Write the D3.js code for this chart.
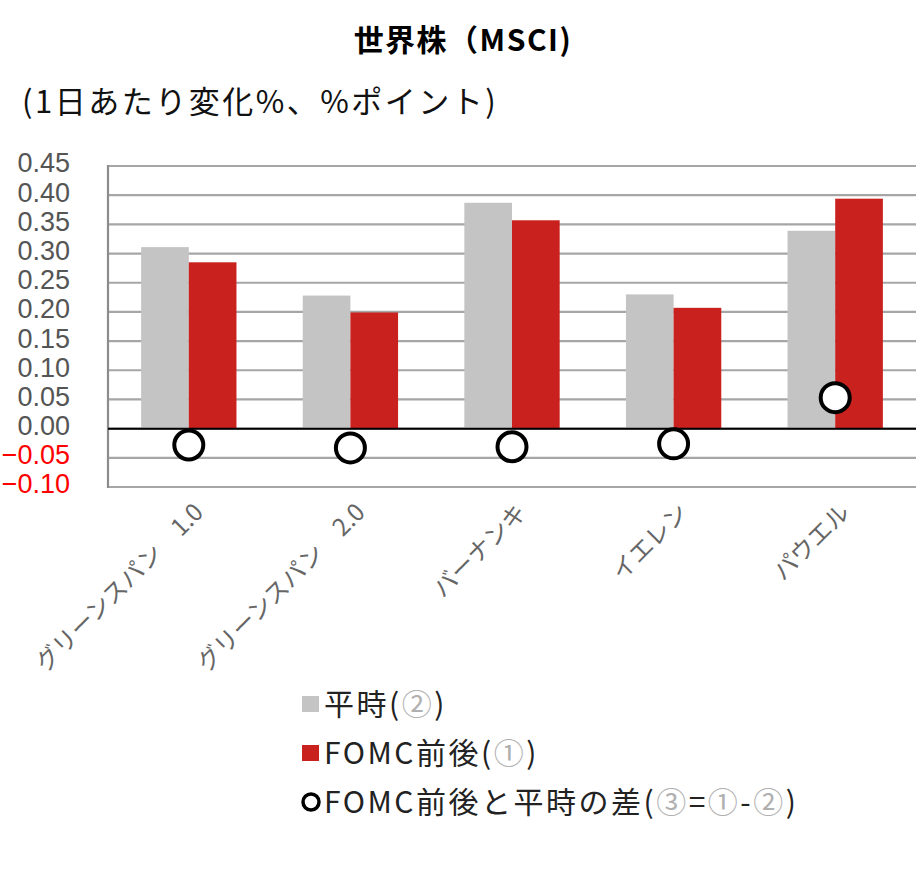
<!DOCTYPE html>
<html>
<head>
<meta charset="utf-8">
<script src="https://cdn.jsdelivr.net/npm/d3@7"></script>
<style>
  body { margin: 0; background: #fff; }
  svg { display: block; }
</style>
</head>
<body>
<svg id="canvas" width="920" height="871"></svg>
<script>
let categories = ['グリーンスパン\u30001.0', 'グリーンスパン\u30002.0', 'バーナンキ', 'イエレン', 'パウエル']
let heijiValues = [0.311, 0.228, 0.387, 0.230, 0.339]
let fomcValues = [0.285, 0.199, 0.357, 0.207, 0.394]
let diffValues = [-0.028, -0.033, -0.031, -0.026, 0.053]
let yTicks = [-0.10, -0.05, 0.00, 0.05, 0.10, 0.15, 0.20, 0.25, 0.30, 0.35, 0.40, 0.45]

let jpFont = '"Noto Sans CJK JP", "Noto Sans", sans-serif'
let numFont = '"Liberation Sans", Arial, sans-serif'

let canvas = d3.select('#canvas')

let plotLeft = 108, plotRight = 916, plotTop = 166, plotBottom = 487

let rows = categories.map((c, i) => ({ name: c, heiji: heijiValues[i], fomc: fomcValues[i], diff: diffValues[i] }))

let x0 = d3.scaleBand()
    .domain(categories)
    .range([plotLeft, plotRight])
    .paddingInner(0.41)
    .paddingOuter(0.205)

let x1 = d3.scaleBand()
    .domain(['heiji', 'fomc'])
    .range([0, x0.bandwidth()])

let y = d3.scaleLinear()
    .domain([-0.10, 0.45])
    .range([plotBottom, plotTop])

let colors = { heiji: '#c4c4c4', fomc: '#c9211e' }

// title
canvas.append('text')
    .attr('x', 463).attr('y', 51)
    .attr('text-anchor', 'middle')
    .style('font-family', jpFont)
    .style('font-weight', 'bold')
    .style('font-size', '30px')
    .style('letter-spacing', '1.5px')
    .style('fill', '#000')
    .text('世界株（MSCI)')

canvas.append('text')
    .attr('x', 22).attr('y', 113)
    .style('font-family', jpFont)
    .style('font-size', '31px')
    .style('letter-spacing', '2.5px')
    .style('fill', '#111')
    .text('(1日あたり変化%、%ポイント)')

// gridlines
canvas.append('g')
    .selectAll('line')
    .data(yTicks)
    .enter()
    .append('line')
    .attr('x1', plotLeft).attr('x2', plotRight)
    .attr('y1', d => y(d)).attr('y2', d => y(d))
    .attr('stroke', '#a6a6a6')
    .attr('stroke-width', 2.2)

canvas.append('line')
    .attr('x1', plotLeft).attr('x2', plotLeft)
    .attr('y1', y(0.45) - 1).attr('y2', y(-0.10) + 1)
    .attr('stroke', '#8c8c8c')
    .attr('stroke-width', 2.2)

// y tick labels
canvas.append('g')
    .selectAll('text')
    .data(yTicks)
    .enter()
    .append('text')
    .attr('x', 70)
    .attr('y', d => y(d) - 3)
    .attr('dy', '0.35em')
    .attr('text-anchor', 'end')
    .style('font-family', numFont)
    .style('font-size', '27px')
    .style('fill', d => d < 0 ? '#ff0000' : '#555')
    .text(d => d3.format('.2f')(d))

// bars
let groups = canvas.append('g')
    .selectAll('g')
    .data(rows)
    .enter()
    .append('g')
    .attr('transform', d => 'translate(' + x0(d.name) + ',0)')

groups.selectAll('rect')
    .data(d => ['heiji', 'fomc'].map(k => ({ key: k, value: d[k] })))
    .enter()
    .append('rect')
    .attr('x', d => x1(d.key))
    .attr('width', x1.bandwidth())
    .attr('y', d => y(Math.max(0, d.value)))
    .attr('height', d => Math.abs(y(d.value) - y(0)))
    .attr('fill', d => colors[d.key])

// zero line
canvas.append('line')
    .attr('x1', plotLeft).attr('x2', plotRight)
    .attr('y1', y(0)).attr('y2', y(0))
    .attr('stroke', '#000')
    .attr('stroke-width', 2)

// difference markers
canvas.append('g')
    .selectAll('circle')
    .data(rows)
    .enter()
    .append('circle')
    .attr('cx', d => x0(d.name) + x0.bandwidth() / 2)
    .attr('cy', d => y(d.diff))
    .attr('r', 14.5)
    .attr('fill', '#fff')
    .attr('stroke', '#000')
    .attr('stroke-width', 4)

// x labels
canvas.append('g')
    .selectAll('text')
    .data(categories)
    .enter()
    .append('text')
    .attr('transform', d => 'translate(' + (x0(d) + x0.bandwidth() / 2 + 10) + ',' + 508 + ') rotate(-45)')
    .attr('text-anchor', 'end')
    .attr('dy', '0.35em')
    .style('font-family', jpFont)
    .style('font-size', '24px')
    .style('fill', '#666')
    .text(d => d)

// legend
let legendItems = [
    { kind: 'rect', color: colors.heiji, parts: [['平時(', '#222'], ['②', '#b0b0b0'], [')', '#222']] },
    { kind: 'rect', color: colors.fomc, parts: [['FOMC前後(', '#222'], ['①', '#b0b0b0'], [')', '#222']] },
    { kind: 'circle', color: '#000', parts: [['FOMC前後と平時の差(', '#222'], ['③', '#b0b0b0'], ['=', '#222'], ['①', '#b0b0b0'], ['-', '#222'], ['②', '#b0b0b0'], [')', '#222']] }
]

let legend = canvas.append('g')
    .selectAll('g')
    .data(legendItems)
    .enter()
    .append('g')
    .attr('transform', (d, i) => 'translate(302,' + (704 + i * 49) + ')')

legend.filter(d => d.kind === 'rect')
    .append('rect')
    .attr('x', 0).attr('y', -8)
    .attr('width', 17).attr('height', 16)
    .attr('fill', d => d.color)

legend.filter(d => d.kind === 'circle')
    .append('circle')
    .attr('cx', 9).attr('cy', 0)
    .attr('r', 8)
    .attr('fill', '#fff')
    .attr('stroke', '#000')
    .attr('stroke-width', 3.5)

legend.append('text')
    .attr('x', 22)
    .attr('dy', '0.36em')
    .style('font-family', jpFont)
    .style('font-size', '30px')
    .style('letter-spacing', '2.5px')
    .selectAll('tspan')
    .data(d => d.parts)
    .enter()
    .append('tspan')
    .style('fill', d => d[1])
    .text(d => d[0])
</script>
</body>
</html>
